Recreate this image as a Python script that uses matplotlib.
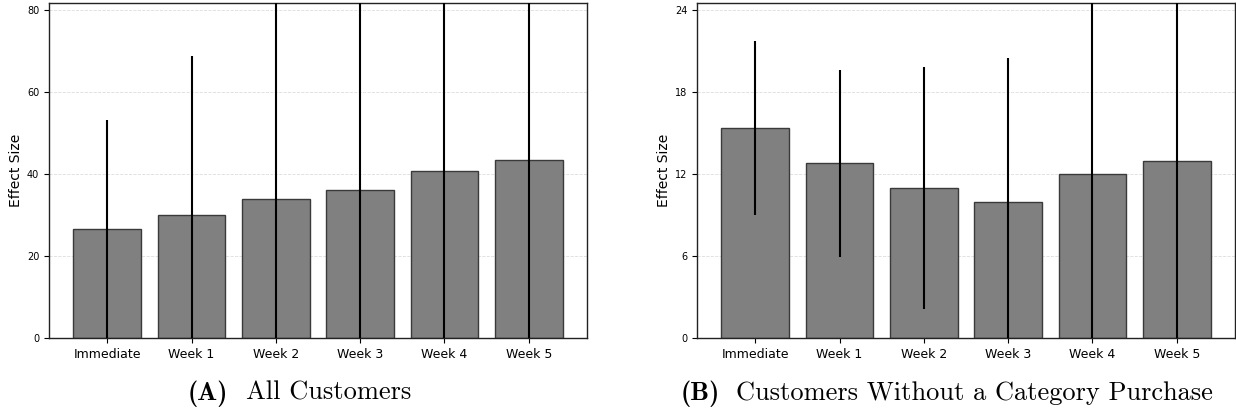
import matplotlib.pyplot as plt
import numpy as np

# periods on the x axis
periods = ['Immediate', 'Week 1', 'Week 2', 'Week 3', 'Week 4', 'Week 5']

# panel A: all customers
effect_all = [26.6, 29.9, 33.8, 36.0, 40.6, 43.3]
err_all = [26.5, 38.8, 50.0, 49.0, 46.0, 44.0]
yticks_all = [0, 20, 40, 60, 80]

# panel B: customers without a category purchase
effect_nocat = [15.37, 12.77, 10.95, 9.94, 11.97, 12.92]
err_nocat = [6.36, 6.83, 8.85, 10.5, 13.5, 13.8]
yticks_nocat = [0, 6, 12, 18, 24]

tags = ['(A)', '(B)']
captions = ['All Customers', 'Customers Without a Category Purchase']

W, H = 1236, 417
fig = plt.figure(figsize=(W / 100, H / 100), dpi=100)

# axes left edge, tag x, caption x (pixels)
panels = [
    (49, effect_all, err_all, yticks_all, 188, 246),
    (697, effect_nocat, err_nocat, yticks_nocat, 681, 736),
]

for (left, vals, errs, yt, tag_x, cap_x), tag, cap in zip(panels, tags, captions):
    ax = fig.add_axes([left / W, (H - 338) / H, 538 / W, 335 / H])
    x = np.arange(len(periods))
    ax.bar(x, vals, width=0.8, color='#808080', edgecolor='#3a3a3a',
           linewidth=1.0, zorder=2)
    ax.errorbar(x, vals, yerr=errs, fmt='none', ecolor='black',
                elinewidth=1.5, capsize=0, zorder=3)
    ax.set_xticks(x)
    ax.set_xticklabels(periods, fontsize=9)
    ax.set_yticks(yt)
    ax.tick_params(axis='y', labelsize=7)
    ax.set_ylim(0, yt[-1] * 1.02)
    ax.set_ylabel('Effect Size', fontsize=10, labelpad=2.5)
    ax.grid(axis='y', linestyle='--', color='#dddddd', linewidth=0.6, zorder=0)
    ax.set_axisbelow(True)
    for s in ax.spines.values():
        s.set_color('#222222')
        s.set_linewidth(1.0)
    fig.text(tag_x / W, (H - 400) / H, tag, fontfamily='cmb10', fontsize=19,
             ha='left', va='baseline')
    fig.text(cap_x / W, (H - 400) / H, cap, fontfamily='cmr10', fontsize=19,
             ha='left', va='baseline')

fig.savefig('out.png', dpi=100)
